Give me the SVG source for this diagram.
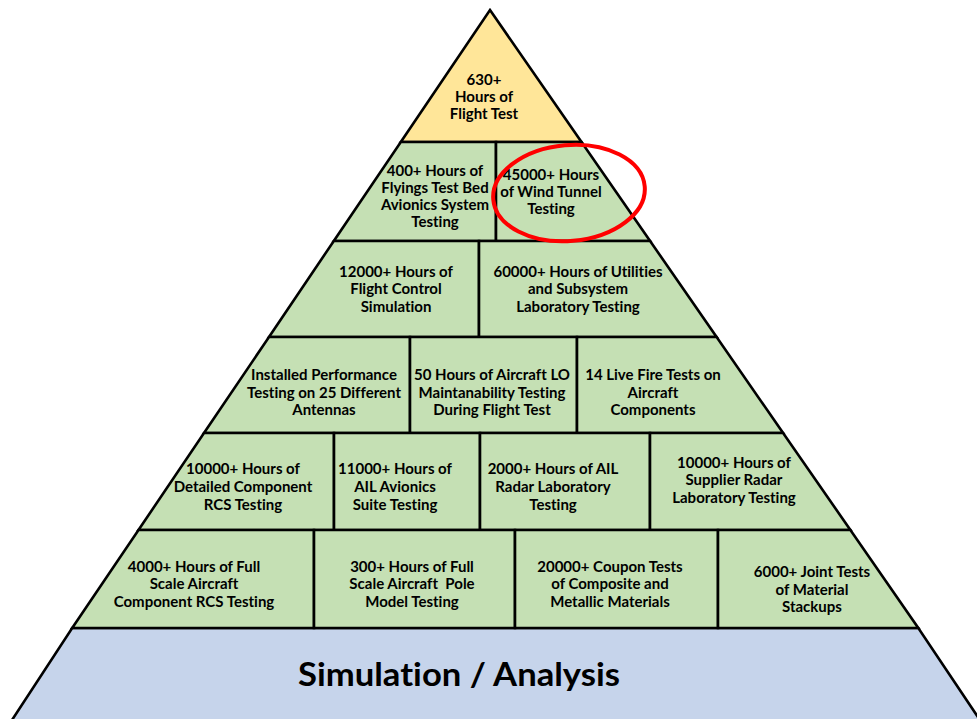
<svg xmlns="http://www.w3.org/2000/svg" width="977" height="719" viewBox="0 0 977 719">
<style>
.cell{stroke:#000;stroke-width:2.6;stroke-linejoin:miter}
.g{fill:#c5e0b4}
.y{fill:#ffe699}
.b{fill:#c6d4eb}
text{font-family:Lato,"Open Sans","Liberation Sans",sans-serif;font-weight:bold;font-size:15px;fill:#000;text-anchor:middle;font-variant-ligatures:none}
.big{font-size:32px}
.ring{fill:none;stroke:#f00;stroke-width:4}
</style>
<rect width="977" height="719" fill="#fff"/>
<g id="base">
<polygon class="cell b" points="72.2,628 918.3,628 981.3,722 10.7,722"/>
<text class="big" x="459" y="686" textLength="322" lengthAdjust="spacingAndGlyphs">Simulation / Analysis</text>
</g>
<g id="top">
<polygon class="cell y" points="490,10 581.5,142 400.8,142"/>
<text x="484" y="85">630+</text>
<text x="484" y="102">Hours of</text>
<text x="484" y="119">Flight Test</text>
</g>
<g id="r1c1">
<polygon class="cell g" points="400.8,142 496,142 496,241 333.8,241"/>
<text x="435" y="176">400+ Hours of</text>
<text x="435" y="193">Flyings Test Bed</text>
<text x="435" y="210">Avionics System</text>
<text x="435" y="227">Testing</text>
</g>
<g id="r1c2">
<polygon class="cell g" points="496,142 581.5,142 650.1,241 496,241"/>
<text x="551" y="180">45000+ Hours</text>
<text x="551" y="197">of Wind Tunnel</text>
<text x="551" y="214">Testing</text>
</g>
<g id="r2c1">
<polygon class="cell g" points="333.8,241 479,241 479,337 269,337"/>
<text x="396" y="277">12000+ Hours of</text>
<text x="396" y="294">Flight Control</text>
<text x="396" y="312">Simulation</text>
</g>
<g id="r2c2">
<polygon class="cell g" points="479,241 650.1,241 716.6,337 479,337"/>
<text x="578" y="277">60000+ Hours of Utilities</text>
<text x="578" y="294">and Subsystem</text>
<text x="578" y="312">Laboratory Testing</text>
</g>
<g id="r3c1">
<polygon class="cell g" points="269,337 410,337 410,433 204,433"/>
<text x="324" y="380">Installed Performance</text>
<text x="324" y="398">Testing on 25 Different</text>
<text x="324" y="415">Antennas</text>
</g>
<g id="r3c2">
<polygon class="cell g" points="410,337 577,337 577,433 410,433"/>
<text x="492" y="380">50 Hours of Aircraft LO</text>
<text x="492" y="398">Maintanability Testing</text>
<text x="492" y="415">During Flight Test</text>
</g>
<g id="r3c3">
<polygon class="cell g" points="577,337 716.6,337 783.1,433 577,433"/>
<text x="653" y="380">14 Live Fire Tests on</text>
<text x="653" y="398">Aircraft</text>
<text x="653" y="415">Components</text>
</g>
<g id="r4c1">
<polygon class="cell g" points="204,433 334,433 334,530 138.5,530"/>
<text x="243" y="474">10000+ Hours of</text>
<text x="243" y="492">Detailed Component</text>
<text x="243" y="510">RCS Testing</text>
</g>
<g id="r4c2">
<polygon class="cell g" points="334,433 480,433 480,530 334,530"/>
<text x="395" y="474">11000+ Hours of</text>
<text x="395" y="492">AIL Avionics</text>
<text x="395" y="510">Suite Testing</text>
</g>
<g id="r4c3">
<polygon class="cell g" points="480,433 650,433 650,530 480,530"/>
<text x="553" y="474">2000+ Hours of AIL</text>
<text x="553" y="492">Radar Laboratory</text>
<text x="553" y="510">Testing</text>
</g>
<g id="r4c4">
<polygon class="cell g" points="650,433 783.1,433 850.4,530 650,530"/>
<text x="734" y="468">10000+ Hours of</text>
<text x="734" y="485">Supplier Radar</text>
<text x="734" y="503">Laboratory Testing</text>
</g>
<g id="r5c1">
<polygon class="cell g" points="138.5,530 314,530 314,628 72.2,628"/>
<text x="194" y="572">4000+ Hours of Full</text>
<text x="194" y="589">Scale Aircraft</text>
<text x="194" y="607">Component RCS Testing</text>
</g>
<g id="r5c2">
<polygon class="cell g" points="314,530 515,530 515,628 314,628"/>
<text x="412" y="572">300+ Hours of Full</text>
<text x="412" y="589" xml:space="preserve">Scale Aircraft  Pole</text>
<text x="412" y="607">Model Testing</text>
</g>
<g id="r5c3">
<polygon class="cell g" points="515,530 718,530 718,628 515,628"/>
<text x="610" y="572">20000+ Coupon Tests</text>
<text x="610" y="589">of Composite and</text>
<text x="610" y="607">Metallic Materials</text>
</g>
<g id="r5c4">
<polygon class="cell g" points="718,530 850.4,530 918.3,628 718,628"/>
<text x="812" y="577">6000+ Joint Tests</text>
<text x="812" y="595">of Material</text>
<text x="812" y="612">Stackups</text>
</g>
<g id="highlight">
<ellipse class="ring" cx="569" cy="193" rx="76" ry="48" transform="rotate(-5 569 193)"/>
</g>
</svg>
